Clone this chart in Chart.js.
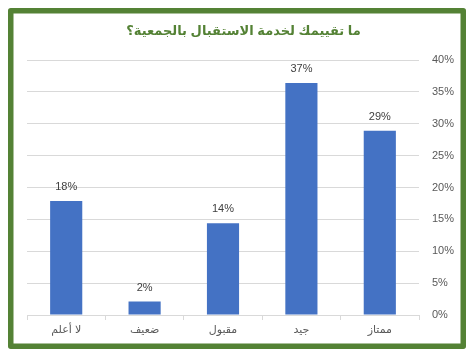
<!DOCTYPE html>
<html><head><meta charset="utf-8">
<script src="https://cdn.jsdelivr.net/npm/chart.js@4/dist/chart.umd.min.js"></script>
<style>html,body{margin:0;padding:0;background:#fff}#w{position:relative;width:474px;height:358px}</style>
</head><body><div id="w"><canvas id="c" width="474" height="358"></canvas></div>
<script>
const titleText = 'ما تقييمك لخدمة الاستقبال بالجمعية؟';
const categories = ['لا أعلم', 'ضعيف', 'مقبول', 'جيد', 'ممتاز'];
const values = [17.9, 2.1, 14.4, 36.4, 28.9];
const valueLabels = ['18%', '2%', '14%', '37%', '29%'];
const yTicks = [0, 5, 10, 15, 20, 25, 30, 35, 40];

const FONT = "'Liberation Sans', 'DejaVu Sans', sans-serif";

const frame = {
  id: 'frame',
  beforeDraw(chart) {
    const ctx = chart.ctx;
    ctx.save();
    ctx.fillStyle = '#fff';
    ctx.fillRect(0, 0, chart.width, chart.height);
    ctx.strokeStyle = '#548235';
    ctx.lineWidth = 5.5;
    ctx.lineJoin = 'round';
    ctx.strokeRect(10.75, 10.75, 452.5, 335.5);
    ctx.restore();
  }
};

const labelsPlugin = {
  id: 'vlabels',
  afterDatasetsDraw(chart) {
    const ctx = chart.ctx;
    const meta = chart.getDatasetMeta(0);
    ctx.save();
    ctx.font = '11px ' + FONT;
    ctx.fillStyle = '#404040';
    ctx.textAlign = 'center';
    ctx.textBaseline = 'middle';
    meta.data.forEach((bar, i) => {
      ctx.fillText(valueLabels[i], bar.x, bar.y - 14);
    });
    ctx.restore();
  }
};

new Chart(document.getElementById('c'), {
  type: 'bar',
  data: {
    labels: categories,
    datasets: [{
      data: values,
      backgroundColor: '#4472c4',
      borderWidth: 0,
      categoryPercentage: 1,
      barPercentage: 0.41
    }]
  },
  options: {
    responsive: false,
    animation: false,
    events: [],
    layout: { padding: { left: 27, right: 14, top: 0, bottom: 14 } },
    plugins: {
      legend: { display: false },
      tooltip: { enabled: false },
      title: {
        display: true,
        text: titleText,
        color: '#548235',
        font: { family: FONT, size: 13, weight: 'bold', lineHeight: 1.2 },
        padding: { top: 24, bottom: 20.4 }
      }
    },
    scales: {
      x: {
        grid: { drawOnChartArea: false, drawTicks: true, tickLength: 5, color: '#d9d9d9', offset: true },
        border: { display: true, color: '#d9d9d9' },
        ticks: { color: '#595959', font: { family: FONT, size: 11 }, padding: 3, maxRotation: 0 },
        afterFit(s) { s.height = 29; }
      },
      y: {
        position: 'right',
        min: 0, max: 40,
        afterBuildTicks(s) { s.ticks = yTicks.map(v => ({ value: v })); },
        grid: { color: '#d9d9d9', drawTicks: false },
        border: { display: false },
        ticks: { color: '#595959', font: { family: FONT, size: 11 }, padding: 13, callback: v => v + '%' },
        afterFit(s) { s.width = 41; }
      }
    }
  },
  plugins: [frame, labelsPlugin]
});
</script>
</body></html>
